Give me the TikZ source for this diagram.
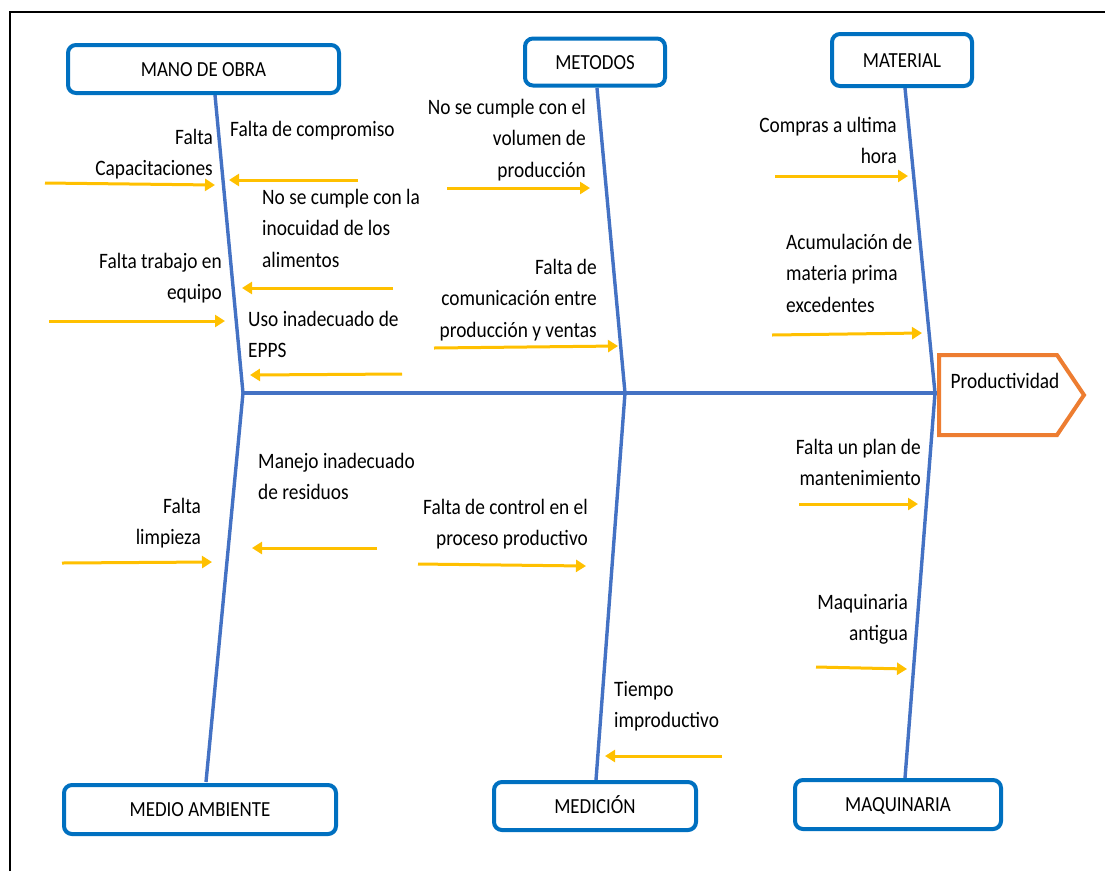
\documentclass[tikz,border=0pt]{standalone}
\usepackage{fontspec}
\setmainfont{Carlito}[FakeStretch=0.88]
\usetikzlibrary{arrows.meta}
\definecolor{bonecol}{HTML}{4472C4}
\definecolor{boxcol}{HTML}{0070C0}
\definecolor{arrcol}{HTML}{FFC000}
\definecolor{prodcol}{HTML}{ED7D31}
\newcommand{\causefont}{\fontsize{22}{31.5}\selectfont}
\newcommand{\headfont}{\fontsize{21.5}{25}\selectfont}
\begin{document}
\begin{tikzpicture}[x=1pt,y=-1pt,
  headbox/.style={draw=boxcol,fill=white,line width=4pt,rounded corners=8pt,inner sep=0pt,font=\headfont,text height=14pt,text depth=0pt,text=black},
  bone/.style={draw=bonecol,line width=3.4pt},
  causearrow/.style={draw=arrcol,line width=3pt,-{Triangle[length=10pt,width=12pt]}},
  causeR/.style={anchor=north east,inner sep=0pt,align=right,font=\causefont,text=black},
  causeL/.style={anchor=north west,inner sep=0pt,align=left,font=\causefont,text=black},
  prodshape/.style={draw=prodcol,line width=4pt,fill=white}
]
\useasboundingbox (0,0) rectangle (1105,871);
\draw[line width=1.6pt] (10,871) -- (10,12) -- (1105,12);

% bone coordinates
\coordinate (tl) at (215,95);
\coordinate (tm) at (597,88);
\coordinate (tr) at (905,88);
\coordinate (jl) at (243,393);
\coordinate (jm) at (625,393);
\coordinate (jr) at (935,393);
\coordinate (bl) at (206,782);
\coordinate (bm) at (596,780);
\coordinate (br) at (905,778);
\coordinate (pw) at (939,393);

% bones
\draw[bone] (tl) -- (jl) -- (bl);
\draw[bone] (tm) -- (jm) -- (bm);
\draw[bone] (tr) -- (jr) -- (br);
\draw[bone] (jl) -- (pw);

% effect
\coordinate (p1) at (939,355);
\coordinate (p2) at (1057,355);
\coordinate (p3) at (1084,395);
\coordinate (p4) at (1057,435);
\coordinate (p5) at (939,435);
\draw[prodshape] (p1) -- (p2) -- (p3) -- (p4) -- (p5) -- cycle;
\node[font=\causefont,inner sep=0pt,text=black] (prod) at (1005,381) {Productividad};

% category boxes
\node[headbox,minimum width=271pt,minimum height=48pt] (mob) at (203.5,69) {MANO DE OBRA};
\node[headbox,minimum width=140pt,minimum height=47pt] (met) at (595,62) {METODOS};
\node[headbox,minimum width=140pt,minimum height=52pt] (mat) at (902,60) {MATERIAL};
\node[headbox,minimum width=272pt,minimum height=49pt] (mam) at (200,809.5) {MEDIO AMBIENTE};
\node[headbox,minimum width=202pt,minimum height=48pt] (med) at (595,806) {MEDICIÓN};
\node[headbox,minimum width=206pt,minimum height=49pt] (maq) at (898,804.5) {MAQUINARIA};

% causes text
\node[causeR] (c1) at (213,122) {\strut Falta\\\strut Capacitaciones};
\node[causeL] (c2) at (230,114) {\strut Falta de compromiso};
\node[causeL] (c3) at (262,182) {\strut No se cumple con la\\\strut inocuidad de los\\\strut alimentos};
\node[causeR] (c4) at (222,246) {\strut Falta trabajo en\\\strut equipo};
\node[causeL] (c5) at (248,304) {\strut Uso inadecuado de\\\strut EPPS};
\node[causeR] (c6) at (586,92) {\strut No se cumple con el\\\strut volumen de\\\strut producción};
\node[causeR] (c7) at (597,252) {\strut Falta de\\\strut comunicación entre\\\strut producción y ventas};
\node[causeR] (c8) at (897,110) {\strut Compras a ultima\\\strut hora};
\node[causeL] (c9) at (786,227) {\strut Acumulación de\\\strut materia prima\\\strut excedentes};
\node[causeR] (c10) at (201,491) {\strut Falta\\\strut limpieza};
\node[causeL] (c11) at (258,446) {\strut Manejo inadecuado\\\strut de residuos};
\node[causeR] (c12) at (588,492) {\strut Falta de control en el\\\strut proceso productivo};
\node[causeR] (c13) at (921,432) {\strut Falta un plan de\\\strut mantenimiento};
\node[causeR] (c14) at (908,587) {\strut Maquinaria\\\strut antigua};
\node[causeL] (c15) at (614,674) {\strut Tiempo\\\strut improductivo};

% arrow coordinates
\coordinate (a1s) at (45,183);   \coordinate (a1e) at (215,185);
\coordinate (a2s) at (358,180);  \coordinate (a2e) at (229,180);
\coordinate (a3s) at (393,288);  \coordinate (a3e) at (242,288);
\coordinate (a4s) at (49,321);   \coordinate (a4e) at (225,321);
\coordinate (a5s) at (402,374);  \coordinate (a5e) at (250,375);
\coordinate (a6s) at (447,188);  \coordinate (a6e) at (590,188);
\coordinate (a7s) at (434,348);  \coordinate (a7e) at (618,346);
\coordinate (a8s) at (775,176);  \coordinate (a8e) at (908,176);
\coordinate (a9s) at (772,335);  \coordinate (a9e) at (922,333);
\coordinate (a10s) at (62,563);  \coordinate (a10e) at (212,562);
\coordinate (a11s) at (377,548); \coordinate (a11e) at (252,548);
\coordinate (a12s) at (418,564); \coordinate (a12e) at (586,566);
\coordinate (a13s) at (799,504); \coordinate (a13e) at (918,504);
\coordinate (a14s) at (816,667); \coordinate (a14e) at (907,669);
\coordinate (a15s) at (722,756); \coordinate (a15e) at (605,756);

\foreach \i in {1,...,15}{\draw[causearrow] (a\i s) -- (a\i e);}
\end{tikzpicture}
\end{document}
